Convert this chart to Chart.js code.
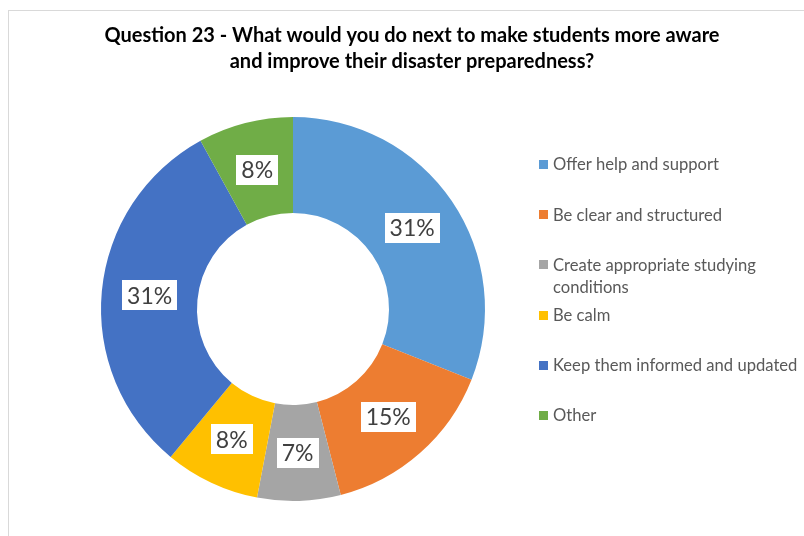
<!DOCTYPE html>
<html>
<head>
<meta charset="utf-8">
<title>Question 23</title>
<script src="https://cdn.jsdelivr.net/npm/chart.js@4.4.1/dist/chart.umd.min.js"></script>
<style>
  html, body { margin: 0; padding: 0; background: #ffffff; }
  #wrap { position: relative; width: 804px; height: 536px; overflow: hidden; }
  canvas { display: block; }
</style>
</head>
<body>
<div id="wrap"><canvas id="chart" width="804" height="536"></canvas></div>
<script>
// Survey answers (share of respondents, %)
const titleLines = [
  'Question 23 - What would you do next to make students more aware',
  'and improve their disaster preparedness?'
];
const categories = [
  'Offer help and support',
  'Be clear and structured',
  ['Create appropriate studying', 'conditions'],
  'Be calm',
  'Keep them informed and updated',
  'Other'
];
const shares = [31, 15, 7, 8, 31, 8];
const sliceColors = ['#5B9BD5', '#ED7D31', '#A5A5A5', '#FFC000', '#4472C4', '#70AD47'];

const FONT = 'Lato, Carlito, "Liberation Sans", sans-serif';

// Light grey frame round the chart area
const framePlugin = {
  id: 'frame',
  beforeDraw(chart) {
    const ctx = chart.ctx;
    ctx.save();
    ctx.strokeStyle = '#D9D9D9';
    ctx.lineWidth = 1;
    ctx.strokeRect(8.5, 10.5, 900, 600);
    ctx.restore();
  }
};

// Two-line bold title
const titlePlugin = {
  id: 'twoLineTitle',
  afterDraw(chart) {
    const ctx = chart.ctx;
    ctx.save();
    ctx.fillStyle = '#000000';
    ctx.font = 'bold 20px ' + FONT;
    ctx.textAlign = 'center';
    ctx.textBaseline = 'alphabetic';
    titleLines.forEach((line, i) => ctx.fillText(line, 412, 42 + i * 26));
    ctx.restore();
  }
};

// Percentage labels in white boxes at the middle of each ring segment
const sliceLabelPlugin = {
  id: 'sliceLabels',
  afterDatasetsDraw(chart) {
    const ctx = chart.ctx;
    const meta = chart.getDatasetMeta(0);
    const data = chart.data.datasets[0].data;
    ctx.save();
    ctx.font = '23px ' + FONT;
    ctx.textAlign = 'center';
    ctx.textBaseline = 'middle';
    meta.data.forEach((arc, i) => {
      const p = arc.getProps(['x', 'y', 'startAngle', 'endAngle', 'innerRadius', 'outerRadius'], true);
      const mid = (p.startAngle + p.endAngle) / 2;
      const r = (p.innerRadius + p.outerRadius) / 2;
      const cx = p.x + Math.cos(mid) * r;
      const cy = p.y + Math.sin(mid) * r;
      const text = data[i] + '%';
      const w = ctx.measureText(text).width + 10;
      const h = 30;
      ctx.fillStyle = '#FFFFFF';
      ctx.fillRect(Math.round(cx - w / 2), Math.round(cy - h / 2), Math.round(w), h);
      ctx.fillStyle = '#404040';
      ctx.fillText(text, cx, cy + 1);
    });
    ctx.restore();
  }
};

// Legend on the right, one entry per category, wrapped labels kept as line arrays
const sideLegendPlugin = {
  id: 'sideLegend',
  afterDraw(chart) {
    const ctx = chart.ctx;
    const labels = chart.data.labels;
    const colors = chart.data.datasets[0].backgroundColor;
    ctx.save();
    ctx.font = '16.6px ' + FONT;
    ctx.textAlign = 'left';
    ctx.textBaseline = 'middle';
    labels.forEach((label, i) => {
      const y = 165 + i * 50.2;
      ctx.fillStyle = colors[i];
      ctx.fillRect(539, Math.round(y) - 5, 9, 9);
      ctx.fillStyle = '#595959';
      const lines = Array.isArray(label) ? label : [label];
      lines.forEach((ln, j) => ctx.fillText(ln, 553, y + j * 22));
    });
    ctx.restore();
  }
};

new Chart(document.getElementById('chart'), {
  type: 'doughnut',
  data: {
    labels: categories,
    datasets: [{
      data: shares,
      backgroundColor: sliceColors,
      borderWidth: 0
    }]
  },
  options: {
    responsive: false,
    animation: false,
    cutout: '50%',
    layout: { padding: { left: 101, top: 117, right: 319, bottom: 35 } },
    plugins: {
      legend: { display: false },
      title: { display: false },
      tooltip: { enabled: false }
    }
  },
  plugins: [framePlugin, titlePlugin, sliceLabelPlugin, sideLegendPlugin]
});
</script>
</body>
</html>
